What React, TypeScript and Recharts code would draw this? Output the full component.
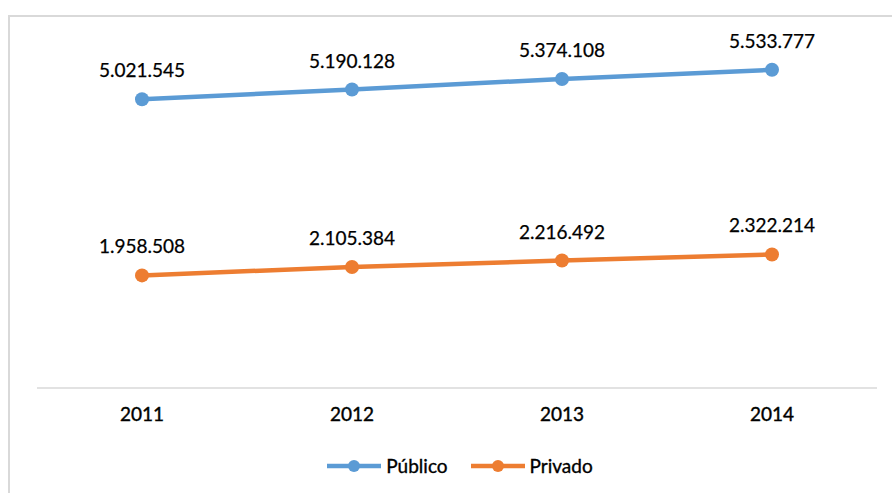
import React from "react";
import { LineChart, Line, XAxis, YAxis, Legend, LabelList } from "recharts";

// ─── Data ─────────────────────────────────────────────────────────────────────

const years = ["2011", "2012", "2013", "2014"];
const publico = [5021545, 5190128, 5374108, 5533777];
const privado = [1958508, 2105384, 2216492, 2322214];

const SERIES = [
  { key: "publico", name: "Público", color: "#5B9BD5" },
  { key: "privado", name: "Privado", color: "#ED7D31" },
];

const rows = years.map((y, i) => ({ year: y, publico: publico[i], privado: privado[i] }));

const FONT = "Lato, 'Liberation Sans', sans-serif";

function fmt(v: number) {
  return v.toString().replace(/\B(?=(\d{3})+(?!\d))/g, ".");
}

// ─── Legend ───────────────────────────────────────────────────────────────────

function LegendContent() {
  return (
    <div style={{
      display: "flex", justifyContent: "center", gap: 23, fontFamily: FONT, fontSize: 19,
      color: "#000", WebkitTextStroke: "0.35px #000",
    }}>
      {SERIES.map(s => (
        <div key={s.key} style={{ display: "flex", alignItems: "center", gap: 5 }}>
          <svg width={54} height={16}>
            <line x1={0} y1={8} x2={54} y2={8} stroke={s.color} strokeWidth={4.5} />
            <circle cx={27} cy={8} r={6} fill={s.color} />
          </svg>
          <span>{s.name}</span>
        </div>
      ))}
    </div>
  );
}

// ─── App ──────────────────────────────────────────────────────────────────────

export default function App() {
  return (
    <div style={{ position: "absolute", left: 0, top: 0, width: 892, height: 493, overflow: "hidden", background: "#fff" }}>
      <div style={{ position: "absolute", left: 8, top: 15, width: 1000, height: 1000, border: "2px solid #d9d9d9" }} />
      <div style={{ position: "absolute", left: 0, top: 0 }}>
        <LineChart width={892} height={493} data={rows} margin={{ top: 43, right: 15, left: 37, bottom: 75 }}>
          <XAxis
            dataKey="year"
            height={30}
            padding={{ left: 105, right: 105 }}
            axisLine={{ stroke: "#d9d9d9", strokeWidth: 1.5 }}
            tickLine={false}
            tickMargin={14}
            tick={{ fill: "#000", fontSize: 19, fontFamily: FONT, stroke: "#000", strokeWidth: 0.4 }}
          />
          <YAxis hide domain={[0, 6000000]} />
          <Legend
            verticalAlign="middle"
            align="center"
            layout="horizontal"
            wrapperStyle={{ top: 454, left: 14, width: 892 }}
            content={<LegendContent />}
          />
          {SERIES.map(s => (
            <Line
              key={s.key}
              dataKey={s.key}
              name={s.name}
              stroke={s.color}
              strokeWidth={4.5}
              dot={{ r: 7, fill: s.color, stroke: s.color, strokeWidth: 0 }}
              activeDot={false}
              isAnimationActive={false}
            >
              <LabelList
                dataKey={s.key}
                position="top"
                offset={22}
                formatter={(v: number) => fmt(v)}
                style={{ fill: "#000", fontSize: 19, fontFamily: FONT, stroke: "#000", strokeWidth: 0.25 }}
              />
            </Line>
          ))}
        </LineChart>
      </div>
    </div>
  );
}
